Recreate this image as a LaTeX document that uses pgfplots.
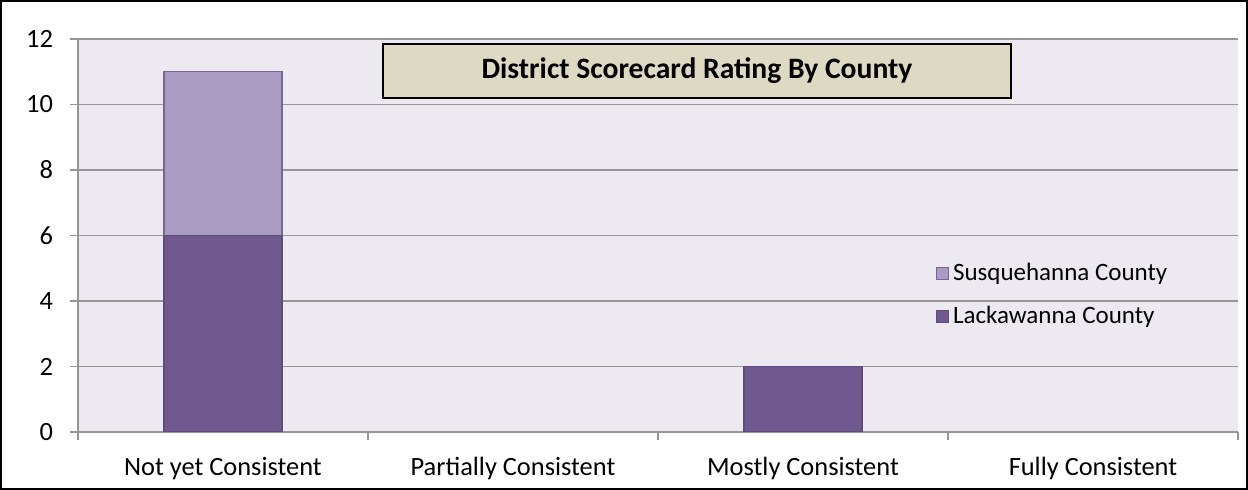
\documentclass[border=0pt]{standalone}
\usepackage{fontspec}
\setmainfont{Carlito}
\usepackage{pgfplots}
\pgfplotsset{compat=1.18}
\definecolor{darkbar}{RGB}{112,89,143}
\definecolor{lightbar}{RGB}{169,155,194}
\definecolor{darkedge}{RGB}{95,75,125}
\definecolor{lightedge}{RGB}{120,100,150}
\definecolor{plotbg}{RGB}{236,233,240}
\definecolor{titlebg}{RGB}{221,217,195}
\definecolor{gridc}{RGB}{150,150,150}
\begin{document}
\begin{tikzpicture}
\useasboundingbox (0pt,0pt) rectangle (624pt,245pt);
\fill[white] (0pt,0pt) rectangle (624pt,245pt);
\begin{axis}[
  at={(39pt,29pt)}, anchor=south west,
  scale only axis, width=580pt, height=196.5pt,
  xmin=-0.5, xmax=3.5, ymin=0, ymax=12,
  ybar stacked, bar width=59pt,
  axis background/.style={fill=plotbg},
  axis x line*=bottom, axis y line*=left,
  axis line style={gridc, line width=0.8pt},
  xtick={0,1,2,3},
  xticklabels={Not yet Consistent, Partially Consistent, Mostly Consistent, Fully Consistent},
  major x tick style={draw=none},
  minor xtick={-0.5,0.5,1.5,2.5,3.5},
  minor x tick style={gridc, line width=0.8pt},
  minor tick length=4pt,
  ytick={0,2,...,12},
  major y tick style={gridc, line width=0.8pt},
  major tick length=4pt,
  tick align=outside,
  ymajorgrids, grid style={gridc, line width=0.8pt},
  tick label style={font=\fontsize{13.2}{15}\selectfont, black},
  /pgf/number format/assume math mode=true,
  yticklabel style={xshift=-5pt},
  xticklabel style={yshift=-5pt},
  legend cell align=left,
  reverse legend,
  legend style={at={(0.734,0.349)}, anchor=west, draw=none, fill=none,
    font=\fontsize{12.5}{14}\selectfont, row sep=7.5pt},
  legend image code/.code={\draw[#1] (0pt,-3pt) rectangle (6pt,3pt);},
]
\addplot[fill=darkbar, draw=darkedge, line width=0.6pt] coordinates {(0,6) (2,2)};
\addlegendentry{Lackawanna County}
\addplot[fill=lightbar, draw=lightedge, line width=0.6pt] coordinates {(0,5)};
\addlegendentry{Susquehanna County}
\end{axis}
\node[draw=black, line width=0.8pt, fill=titlebg, minimum width=314pt, minimum height=27pt, inner sep=0pt,
  font=\fontsize{14.8}{17}\selectfont\bfseries] at (348.5pt,209.5pt) {District Scorecard Rating By County};
\draw[black, line width=1pt] (0.5pt,0.5pt) rectangle (623.5pt,244.5pt);
\end{tikzpicture}
\end{document}
